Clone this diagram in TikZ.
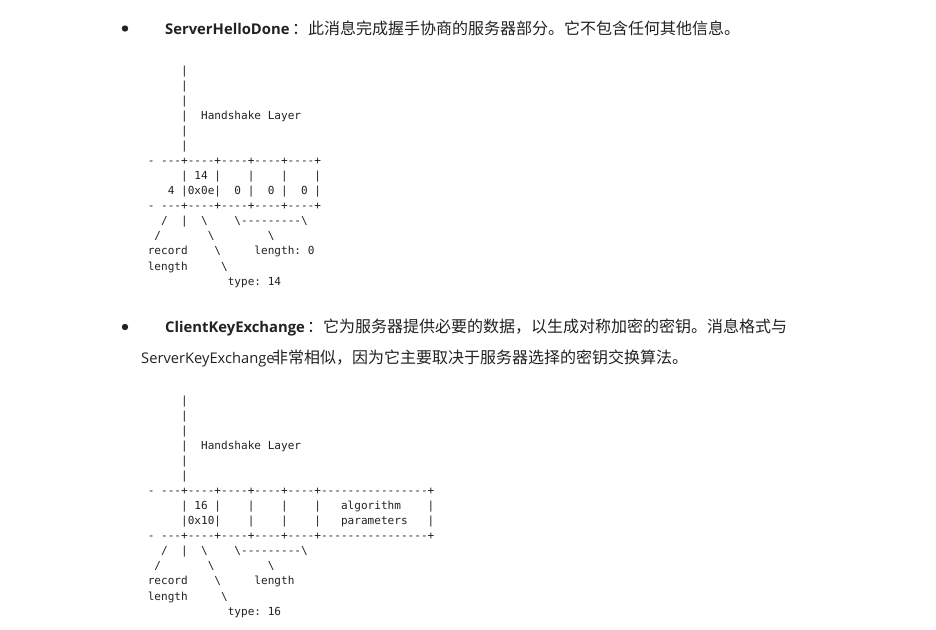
\documentclass[tikz,border=0pt]{standalone}
\usepackage{fontspec}
\setmainfont{Open Sans}
\setmonofont{DejaVu Sans Mono}[WordSpace={1,0,0}]
\newfontfamily\cjkfont{Noto Sans CJK SC}
\newcommand\bsl{\textbackslash}
\definecolor{ink}{HTML}{222222}
\tikzset{
  asciistyle/.style={anchor=base west, inner sep=0pt, text=ink,
    font=\ttfamily\fontsize{11.07}{13}\selectfont},
  bodytext/.style={anchor=base west, inner sep=0pt, text=ink,
    font=\fontsize{14.7}{20}\selectfont},
  termtext/.style={bodytext, font=\fontsize{14.8}{20}\selectfont\bfseries},
  cjktext/.style={bodytext, font=\fontsize{16}{20}\selectfont\cjkfont},
  bulletdot/.style={circle, fill=ink, inner sep=0pt, minimum size=6.4pt}
}
\newcommand\aline[4]{\node[asciistyle] (#1) at (147.6,{#2+15.07*#3}) {#4};}
\begin{document}
\begin{tikzpicture}[x=1pt,y=-1pt]
\useasboundingbox[fill=white] (0,0) rectangle (936,629);

% ---------- bullet 1 ----------
\node[bulletdot] (b1) at (125,28.5) {};
\node[termtext] (t1) at (165,34) {ServerHelloDone};
\node[cjktext] (c1) at (292,34) {：此消息完成握手协商的服务器部分。它不包含任何其他信息。};

% ---------- diagram 1 ----------
\aline{a1}{74.1}{0}{~~~~~|}
\aline{a2}{74.1}{1}{~~~~~|}
\aline{a3}{74.1}{2}{~~~~~|}
\aline{a4}{74.1}{3}{~~~~~|~~Handshake~Layer}
\aline{a5}{74.1}{4}{~~~~~|}
\aline{a6}{74.1}{5}{~~~~~|}
\aline{a7}{74.1}{6}{-~---+----+----+----+----+}
\aline{a8}{74.1}{7}{~~~~~|~14~|~~~~|~~~~|~~~~|}
\aline{a9}{74.1}{8}{~~~4~|0x0e|~~0~|~~0~|~~0~|}
\aline{a10}{74.1}{9}{-~---+----+----+----+----+}
\aline{a11}{74.1}{10}{~~/~~|~~\bsl~~~~\bsl---------\bsl}
\aline{a12}{74.1}{11}{~/~~~~~~~\bsl~~~~~~~~\bsl}
\aline{a13}{74.1}{12}{record~~~~\bsl~~~~~length:~0}
\aline{a14}{74.1}{13}{length~~~~~\bsl}
\aline{a15}{74.1}{14}{~~~~~~~~~~~~type:~14}

% ---------- bullet 2 ----------
\node[bulletdot] (b2) at (125,327) {};
\node[termtext] (t2) at (165,332) {ClientKeyExchange};
\node[cjktext] (c2) at (307,332) {：它为服务器提供必要的数据，以生成对称加密的密钥。消息格式与};
\node[bodytext] (t3) at (141,363) {ServerKeyExchange};
\node[cjktext] (c3) at (272,363) {非常相似，因为它主要取决于服务器选择的密钥交换算法。};

% ---------- diagram 2 ----------
\aline{d1}{404.1}{0}{~~~~~|}
\aline{d2}{404.1}{1}{~~~~~|}
\aline{d3}{404.1}{2}{~~~~~|}
\aline{d4}{404.1}{3}{~~~~~|~~Handshake~Layer}
\aline{d5}{404.1}{4}{~~~~~|}
\aline{d6}{404.1}{5}{~~~~~|}
\aline{d7}{404.1}{6}{-~---+----+----+----+----+----------------+}
\aline{d8}{404.1}{7}{~~~~~|~16~|~~~~|~~~~|~~~~|~~~algorithm~~~~|}
\aline{d9}{404.1}{8}{~~~~~|0x10|~~~~|~~~~|~~~~|~~~parameters~~~|}
\aline{d10}{404.1}{9}{-~---+----+----+----+----+----------------+}
\aline{d11}{404.1}{10}{~~/~~|~~\bsl~~~~\bsl---------\bsl}
\aline{d12}{404.1}{11}{~/~~~~~~~\bsl~~~~~~~~\bsl}
\aline{d13}{404.1}{12}{record~~~~\bsl~~~~~length}
\aline{d14}{404.1}{13}{length~~~~~\bsl}
\aline{d15}{404.1}{14}{~~~~~~~~~~~~type:~16}
\end{tikzpicture}
\end{document}
